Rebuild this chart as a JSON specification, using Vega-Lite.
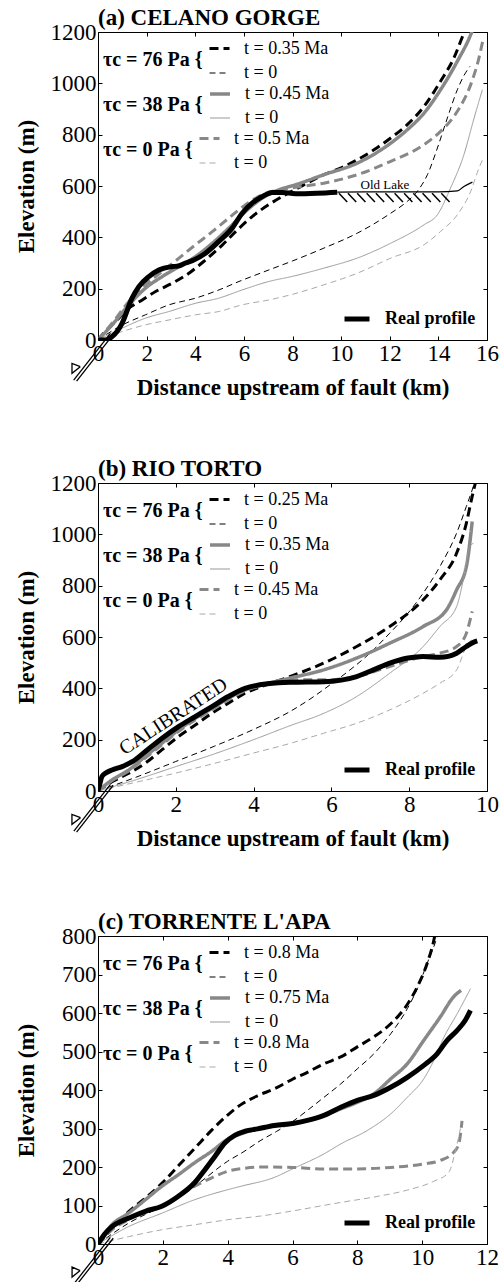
{
  "$schema": "https://vega.github.io/schema/vega-lite/v6.json",
  "background": "white",
  "padding": {"left": 14, "top": 6, "right": 0, "bottom": 0},
  "config": {
    "font": "Liberation Serif",
    "view": {"stroke": "black", "strokeWidth": 1},
    "axis": {"labelFont": "Liberation Serif", "labelFontSize": 23, "labelColor": "black", "titleFont": "Liberation Serif", "titleFontSize": 23, "titleFontWeight": "bold", "titleColor": "black", "tickColor": "black", "tickSize": -4, "domain": false, "grid": false, "labelPadding": 6, "labelFlush": false, "labelOverlap": false, "format": "d"},
    "title": {"font": "Liberation Serif", "fontSize": 23, "fontWeight": "bold", "anchor": "start", "color": "black", "offset": -9, "frame": "group"},
    "legend": {"labelFont": "Liberation Serif", "labelFontSize": 18, "labelColor": "black", "titleFont": "Liberation Serif", "titleFontSize": 20, "titleFontWeight": "bold", "titleColor": "black", "titleOrient": "left", "titlePadding": 5, "labelOffset": 13, "symbolSize": 400, "rowPadding": 4.5, "offset": 5, "padding": 0, "symbolType": "stroke", "layout": {"top-left": {"direction": "vertical", "margin": -1, "anchor": "start"}}}
  },
  "datasets": {
    "a": [
      {"g":"76","t":"t = 0.35 Ma","x":0,"y":0},{"g":"76","t":"t = 0.35 Ma","x":0.17,"y":20},{"g":"76","t":"t = 0.35 Ma","x":0.72,"y":72},{"g":"76","t":"t = 0.35 Ma","x":1.27,"y":124},{"g":"76","t":"t = 0.35 Ma","x":1.82,"y":156},{"g":"76","t":"t = 0.35 Ma","x":2.37,"y":189},{"g":"76","t":"t = 0.35 Ma","x":3.05,"y":221},{"g":"76","t":"t = 0.35 Ma","x":3.74,"y":260},{"g":"76","t":"t = 0.35 Ma","x":4.42,"y":312},{"g":"76","t":"t = 0.35 Ma","x":5.11,"y":370},{"g":"76","t":"t = 0.35 Ma","x":5.66,"y":422},{"g":"76","t":"t = 0.35 Ma","x":6.34,"y":481},{"g":"76","t":"t = 0.35 Ma","x":7.02,"y":527},{"g":"76","t":"t = 0.35 Ma","x":7.58,"y":559},{"g":"76","t":"t = 0.35 Ma","x":7.99,"y":580},{"g":"76","t":"t = 0.35 Ma","x":9.29,"y":644},{"g":"76","t":"t = 0.35 Ma","x":9.98,"y":670},{"g":"76","t":"t = 0.35 Ma","x":10.66,"y":702},{"g":"76","t":"t = 0.35 Ma","x":11.35,"y":741},{"g":"76","t":"t = 0.35 Ma","x":12.04,"y":787},{"g":"76","t":"t = 0.35 Ma","x":12.72,"y":839},{"g":"76","t":"t = 0.35 Ma","x":13.41,"y":910},{"g":"76","t":"t = 0.35 Ma","x":14.09,"y":1008},{"g":"76","t":"t = 0.35 Ma","x":14.64,"y":1099},{"g":"76","t":"t = 0.35 Ma","x":15.05,"y":1196},{"g":"76","t":"t = 0.35 Ma","x":15.12,"y":1212},
      {"g":"76","t":"t = 0","x":0,"y":0},{"g":"76","t":"t = 0","x":0.99,"y":58},{"g":"76","t":"t = 0","x":1.95,"y":98},{"g":"76","t":"t = 0","x":2.92,"y":137},{"g":"76","t":"t = 0","x":4.01,"y":163},{"g":"76","t":"t = 0","x":4.97,"y":195},{"g":"76","t":"t = 0","x":5.8,"y":228},{"g":"76","t":"t = 0","x":7.03,"y":273},{"g":"76","t":"t = 0","x":8.0,"y":308},{"g":"76","t":"t = 0","x":9.29,"y":358},{"g":"76","t":"t = 0","x":10.66,"y":416},{"g":"76","t":"t = 0","x":12.04,"y":494},{"g":"76","t":"t = 0","x":12.72,"y":540},{"g":"76","t":"t = 0","x":13.13,"y":579},{"g":"76","t":"t = 0","x":13.55,"y":644},{"g":"76","t":"t = 0","x":13.96,"y":748},{"g":"76","t":"t = 0","x":14.37,"y":865},{"g":"76","t":"t = 0","x":14.78,"y":975},{"g":"76","t":"t = 0","x":15.05,"y":1030},{"g":"76","t":"t = 0","x":15.3,"y":1066},
      {"g":"38","t":"t = 0.45 Ma","x":0,"y":0},{"g":"38","t":"t = 0.45 Ma","x":0.58,"y":59},{"g":"38","t":"t = 0.45 Ma","x":1.27,"y":137},{"g":"38","t":"t = 0.45 Ma","x":1.95,"y":202},{"g":"38","t":"t = 0.45 Ma","x":2.64,"y":247},{"g":"38","t":"t = 0.45 Ma","x":3.33,"y":286},{"g":"38","t":"t = 0.45 Ma","x":4.01,"y":325},{"g":"38","t":"t = 0.45 Ma","x":4.7,"y":377},{"g":"38","t":"t = 0.45 Ma","x":5.38,"y":436},{"g":"38","t":"t = 0.45 Ma","x":6.07,"y":501},{"g":"38","t":"t = 0.45 Ma","x":6.76,"y":553},{"g":"38","t":"t = 0.45 Ma","x":7.44,"y":585},{"g":"38","t":"t = 0.45 Ma","x":8.13,"y":605},{"g":"38","t":"t = 0.45 Ma","x":9.29,"y":644},{"g":"38","t":"t = 0.45 Ma","x":10.66,"y":689},{"g":"38","t":"t = 0.45 Ma","x":12.04,"y":767},{"g":"38","t":"t = 0.45 Ma","x":12.72,"y":819},{"g":"38","t":"t = 0.45 Ma","x":13.41,"y":884},{"g":"38","t":"t = 0.45 Ma","x":14.09,"y":975},{"g":"38","t":"t = 0.45 Ma","x":14.78,"y":1086},{"g":"38","t":"t = 0.45 Ma","x":15.33,"y":1190},{"g":"38","t":"t = 0.45 Ma","x":15.42,"y":1212},
      {"g":"38","t":"t = 0","x":0,"y":0},{"g":"38","t":"t = 0","x":0.99,"y":46},{"g":"38","t":"t = 0","x":1.95,"y":85},{"g":"38","t":"t = 0","x":2.92,"y":111},{"g":"38","t":"t = 0","x":4.01,"y":143},{"g":"38","t":"t = 0","x":4.97,"y":163},{"g":"38","t":"t = 0","x":5.93,"y":195},{"g":"38","t":"t = 0","x":7.03,"y":228},{"g":"38","t":"t = 0","x":8.0,"y":248},{"g":"38","t":"t = 0","x":9.29,"y":280},{"g":"38","t":"t = 0","x":10.66,"y":319},{"g":"38","t":"t = 0","x":12.04,"y":377},{"g":"38","t":"t = 0","x":13.41,"y":449},{"g":"38","t":"t = 0","x":13.96,"y":488},{"g":"38","t":"t = 0","x":14.5,"y":592},{"g":"38","t":"t = 0","x":15.05,"y":722},{"g":"38","t":"t = 0","x":15.47,"y":865},{"g":"38","t":"t = 0","x":15.81,"y":975},
      {"g":"0","t":"t = 0.5 Ma","x":0,"y":0},{"g":"0","t":"t = 0.5 Ma","x":0.58,"y":65},{"g":"0","t":"t = 0.5 Ma","x":1.27,"y":150},{"g":"0","t":"t = 0.5 Ma","x":1.95,"y":215},{"g":"0","t":"t = 0.5 Ma","x":2.64,"y":267},{"g":"0","t":"t = 0.5 Ma","x":3.33,"y":319},{"g":"0","t":"t = 0.5 Ma","x":4.01,"y":371},{"g":"0","t":"t = 0.5 Ma","x":4.7,"y":422},{"g":"0","t":"t = 0.5 Ma","x":5.38,"y":475},{"g":"0","t":"t = 0.5 Ma","x":6.07,"y":527},{"g":"0","t":"t = 0.5 Ma","x":6.76,"y":566},{"g":"0","t":"t = 0.5 Ma","x":7.44,"y":585},{"g":"0","t":"t = 0.5 Ma","x":8.13,"y":595},{"g":"0","t":"t = 0.5 Ma","x":9.29,"y":611},{"g":"0","t":"t = 0.5 Ma","x":10.66,"y":644},{"g":"0","t":"t = 0.5 Ma","x":12.04,"y":696},{"g":"0","t":"t = 0.5 Ma","x":13.41,"y":761},{"g":"0","t":"t = 0.5 Ma","x":14.09,"y":813},{"g":"0","t":"t = 0.5 Ma","x":14.78,"y":891},{"g":"0","t":"t = 0.5 Ma","x":15.33,"y":995},{"g":"0","t":"t = 0.5 Ma","x":15.67,"y":1099},{"g":"0","t":"t = 0.5 Ma","x":15.85,"y":1177},
      {"g":"0","t":"t = 0","x":0,"y":0},{"g":"0","t":"t = 0","x":0.99,"y":33},{"g":"0","t":"t = 0","x":1.95,"y":59},{"g":"0","t":"t = 0","x":2.92,"y":78},{"g":"0","t":"t = 0","x":4.01,"y":98},{"g":"0","t":"t = 0","x":4.97,"y":111},{"g":"0","t":"t = 0","x":5.93,"y":137},{"g":"0","t":"t = 0","x":7.03,"y":156},{"g":"0","t":"t = 0","x":8.0,"y":178},{"g":"0","t":"t = 0","x":9.29,"y":215},{"g":"0","t":"t = 0","x":10.66,"y":260},{"g":"0","t":"t = 0","x":12.04,"y":319},{"g":"0","t":"t = 0","x":13.41,"y":371},{"g":"0","t":"t = 0","x":14.09,"y":423},{"g":"0","t":"t = 0","x":14.78,"y":488},{"g":"0","t":"t = 0","x":15.33,"y":579},{"g":"0","t":"t = 0","x":15.67,"y":670},{"g":"0","t":"t = 0","x":15.85,"y":709},
      {"g":"real","t":"Real profile","x":0,"y":0},{"g":"real","t":"Real profile","x":0.3,"y":0},{"g":"real","t":"Real profile","x":0.58,"y":13},{"g":"real","t":"Real profile","x":0.99,"y":65},{"g":"real","t":"Real profile","x":1.4,"y":163},{"g":"real","t":"Real profile","x":1.68,"y":208},{"g":"real","t":"Real profile","x":2.09,"y":247},{"g":"real","t":"Real profile","x":2.5,"y":273},{"g":"real","t":"Real profile","x":3.05,"y":286},{"g":"real","t":"Real profile","x":3.3,"y":288},{"g":"real","t":"Real profile","x":3.6,"y":300},{"g":"real","t":"Real profile","x":3.94,"y":312},{"g":"real","t":"Real profile","x":4.42,"y":338},{"g":"real","t":"Real profile","x":4.97,"y":384},{"g":"real","t":"Real profile","x":5.52,"y":436},{"g":"real","t":"Real profile","x":5.93,"y":494},{"g":"real","t":"Real profile","x":6.34,"y":533},{"g":"real","t":"Real profile","x":6.76,"y":559},{"g":"real","t":"Real profile","x":7.17,"y":575},{"g":"real","t":"Real profile","x":7.58,"y":575},{"g":"real","t":"Real profile","x":8.13,"y":570},{"g":"real","t":"Real profile","x":9.0,"y":572},{"g":"real","t":"Real profile","x":9.84,"y":576},
      {"g":"lake","t":"lake","x":9.84,"y":576},{"g":"lake","t":"lake","x":11,"y":577},{"g":"lake","t":"lake","x":12,"y":577},{"g":"lake","t":"lake","x":13,"y":577},{"g":"lake","t":"lake","x":14,"y":577},{"g":"lake","t":"lake","x":14.78,"y":581},{"g":"lake","t":"lake","x":15.05,"y":598},{"g":"lake","t":"lake","x":15.4,"y":615}
    ],
    "hatch": [
      {"x":9.91,"x2":10.25},{"x":10.28,"x2":10.62},{"x":10.66,"x2":11.0},{"x":11.05,"x2":11.39},{"x":11.43,"x2":11.77},{"x":11.82,"x2":12.16},{"x":12.2,"x2":12.54},{"x":12.59,"x2":12.93},{"x":12.97,"x2":13.31},{"x":13.35,"x2":13.69},{"x":13.74,"x2":14.08},{"x":14.12,"x2":14.46}
    ],
    "notes": [
      {"p":"a","label":"Old Lake","x":11.8,"y":603},
      {"p":"b","label":"CALIBRATED","x":1.94,"y":290}
    ],
    "fault": [
      {"p":"a","part":"l1","o":1,"x":0.51,"y":26},{"p":"a","part":"l1","o":2,"x":-1.0,"y":-156},
      {"p":"a","part":"l2","o":1,"x":0.63,"y":22},{"p":"a","part":"l2","o":2,"x":-0.88,"y":-160},
      {"p":"a","part":"tri","o":1,"x":-0.73,"y":-104},{"p":"a","part":"tri","o":2,"x":-1.07,"y":-91},{"p":"a","part":"tri","o":3,"x":-1.07,"y":-130},{"p":"a","part":"tri","o":4,"x":-0.73,"y":-104},
      {"p":"b","part":"l1","o":1,"x":0.32,"y":26},{"p":"b","part":"l1","o":2,"x":-0.62,"y":-156},
      {"p":"b","part":"l2","o":1,"x":0.39,"y":22},{"p":"b","part":"l2","o":2,"x":-0.55,"y":-160},
      {"p":"b","part":"tri","o":1,"x":-0.45,"y":-104},{"p":"b","part":"tri","o":2,"x":-0.67,"y":-91},{"p":"b","part":"tri","o":3,"x":-0.67,"y":-130},{"p":"b","part":"tri","o":4,"x":-0.45,"y":-104},
      {"p":"c","part":"l1","o":1,"x":0.38,"y":17},{"p":"c","part":"l1","o":2,"x":-0.75,"y":-104},
      {"p":"c","part":"l2","o":1,"x":0.47,"y":15},{"p":"c","part":"l2","o":2,"x":-0.66,"y":-106},
      {"p":"c","part":"tri","o":1,"x":-0.55,"y":-69},{"p":"c","part":"tri","o":2,"x":-0.8,"y":-60},{"p":"c","part":"tri","o":3,"x":-0.8,"y":-86},{"p":"c","part":"tri","o":4,"x":-0.55,"y":-69}
    ],
    "b": [
      {"g":"76","t":"t = 0.25 Ma","x":0,"y":0},{"g":"76","t":"t = 0.25 Ma","x":0.36,"y":36},{"g":"76","t":"t = 0.25 Ma","x":0.79,"y":69},{"g":"76","t":"t = 0.25 Ma","x":1.21,"y":108},{"g":"76","t":"t = 0.25 Ma","x":1.64,"y":160},{"g":"76","t":"t = 0.25 Ma","x":2.07,"y":212},{"g":"76","t":"t = 0.25 Ma","x":2.5,"y":257},{"g":"76","t":"t = 0.25 Ma","x":2.93,"y":303},{"g":"76","t":"t = 0.25 Ma","x":3.35,"y":342},{"g":"76","t":"t = 0.25 Ma","x":3.78,"y":381},{"g":"76","t":"t = 0.25 Ma","x":4.21,"y":407},{"g":"76","t":"t = 0.25 Ma","x":4.94,"y":446},{"g":"76","t":"t = 0.25 Ma","x":5.8,"y":498},{"g":"76","t":"t = 0.25 Ma","x":6.65,"y":563},{"g":"76","t":"t = 0.25 Ma","x":7.5,"y":641},{"g":"76","t":"t = 0.25 Ma","x":8.36,"y":745},{"g":"76","t":"t = 0.25 Ma","x":8.79,"y":823},{"g":"76","t":"t = 0.25 Ma","x":9.22,"y":927},{"g":"76","t":"t = 0.25 Ma","x":9.47,"y":1044},{"g":"76","t":"t = 0.25 Ma","x":9.6,"y":1135},{"g":"76","t":"t = 0.25 Ma","x":9.72,"y":1212},
      {"g":"76","t":"t = 0","x":0,"y":0},{"g":"76","t":"t = 0","x":1,"y":55},{"g":"76","t":"t = 0","x":2,"y":115},{"g":"76","t":"t = 0","x":3,"y":175},{"g":"76","t":"t = 0","x":4,"y":240},{"g":"76","t":"t = 0","x":4.94,"y":310},{"g":"76","t":"t = 0","x":5.45,"y":358},{"g":"76","t":"t = 0","x":5.96,"y":413},{"g":"76","t":"t = 0","x":6.48,"y":472},{"g":"76","t":"t = 0","x":6.99,"y":537},{"g":"76","t":"t = 0","x":7.5,"y":615},{"g":"76","t":"t = 0","x":7.97,"y":693},{"g":"76","t":"t = 0","x":8.36,"y":771},{"g":"76","t":"t = 0","x":8.79,"y":875},{"g":"76","t":"t = 0","x":9.22,"y":1005},{"g":"76","t":"t = 0","x":9.47,"y":1109},{"g":"76","t":"t = 0","x":9.65,"y":1187},{"g":"76","t":"t = 0","x":9.7,"y":1212},
      {"g":"38","t":"t = 0.35 Ma","x":0,"y":0},{"g":"38","t":"t = 0.35 Ma","x":0.36,"y":43},{"g":"38","t":"t = 0.35 Ma","x":0.79,"y":82},{"g":"38","t":"t = 0.35 Ma","x":1.21,"y":134},{"g":"38","t":"t = 0.35 Ma","x":1.64,"y":186},{"g":"38","t":"t = 0.35 Ma","x":2.07,"y":238},{"g":"38","t":"t = 0.35 Ma","x":2.5,"y":283},{"g":"38","t":"t = 0.35 Ma","x":2.93,"y":322},{"g":"38","t":"t = 0.35 Ma","x":3.35,"y":361},{"g":"38","t":"t = 0.35 Ma","x":3.78,"y":394},{"g":"38","t":"t = 0.35 Ma","x":4.21,"y":413},{"g":"38","t":"t = 0.35 Ma","x":4.94,"y":440},{"g":"38","t":"t = 0.35 Ma","x":5.8,"y":472},{"g":"38","t":"t = 0.35 Ma","x":6.65,"y":518},{"g":"38","t":"t = 0.35 Ma","x":7.5,"y":576},{"g":"38","t":"t = 0.35 Ma","x":8.36,"y":641},{"g":"38","t":"t = 0.35 Ma","x":8.96,"y":706},{"g":"38","t":"t = 0.35 Ma","x":9.22,"y":784},{"g":"38","t":"t = 0.35 Ma","x":9.47,"y":875},{"g":"38","t":"t = 0.35 Ma","x":9.62,"y":1050},
      {"g":"38","t":"t = 0","x":0,"y":0},{"g":"38","t":"t = 0","x":1,"y":45},{"g":"38","t":"t = 0","x":2,"y":95},{"g":"38","t":"t = 0","x":3,"y":145},{"g":"38","t":"t = 0","x":4,"y":200},{"g":"38","t":"t = 0","x":5,"y":258},{"g":"38","t":"t = 0","x":5.7,"y":296},{"g":"38","t":"t = 0","x":6.65,"y":368},{"g":"38","t":"t = 0","x":7.5,"y":459},{"g":"38","t":"t = 0","x":8.36,"y":563},{"g":"38","t":"t = 0","x":8.79,"y":641},{"g":"38","t":"t = 0","x":9.22,"y":719},{"g":"38","t":"t = 0","x":9.39,"y":823},{"g":"38","t":"t = 0","x":9.56,"y":953},{"g":"38","t":"t = 0","x":9.65,"y":965},
      {"g":"0","t":"t = 0.45 Ma","x":0,"y":0},{"g":"0","t":"t = 0.45 Ma","x":0.36,"y":40},{"g":"0","t":"t = 0.45 Ma","x":0.79,"y":78},{"g":"0","t":"t = 0.45 Ma","x":1.21,"y":128},{"g":"0","t":"t = 0.45 Ma","x":1.64,"y":180},{"g":"0","t":"t = 0.45 Ma","x":2.07,"y":232},{"g":"0","t":"t = 0.45 Ma","x":2.5,"y":277},{"g":"0","t":"t = 0.45 Ma","x":2.93,"y":316},{"g":"0","t":"t = 0.45 Ma","x":3.35,"y":355},{"g":"0","t":"t = 0.45 Ma","x":3.78,"y":390},{"g":"0","t":"t = 0.45 Ma","x":4.21,"y":410},{"g":"0","t":"t = 0.45 Ma","x":4.94,"y":433},{"g":"0","t":"t = 0.45 Ma","x":5.8,"y":433},{"g":"0","t":"t = 0.45 Ma","x":6.65,"y":446},{"g":"0","t":"t = 0.45 Ma","x":7.5,"y":485},{"g":"0","t":"t = 0.45 Ma","x":8.36,"y":524},{"g":"0","t":"t = 0.45 Ma","x":8.79,"y":537},{"g":"0","t":"t = 0.45 Ma","x":9.22,"y":563},{"g":"0","t":"t = 0.45 Ma","x":9.47,"y":615},{"g":"0","t":"t = 0.45 Ma","x":9.62,"y":700},
      {"g":"0","t":"t = 0","x":0,"y":0},{"g":"0","t":"t = 0","x":1,"y":35},{"g":"0","t":"t = 0","x":2,"y":70},{"g":"0","t":"t = 0","x":3,"y":108},{"g":"0","t":"t = 0","x":4,"y":148},{"g":"0","t":"t = 0","x":5,"y":188},{"g":"0","t":"t = 0","x":5.8,"y":225},{"g":"0","t":"t = 0","x":6.65,"y":264},{"g":"0","t":"t = 0","x":7.5,"y":316},{"g":"0","t":"t = 0","x":8.36,"y":381},{"g":"0","t":"t = 0","x":8.79,"y":420},{"g":"0","t":"t = 0","x":9.22,"y":472},{"g":"0","t":"t = 0","x":9.47,"y":563},{"g":"0","t":"t = 0","x":9.6,"y":589},
      {"g":"real","t":"Real profile","x":0,"y":0},{"g":"real","t":"Real profile","x":0.05,"y":30},{"g":"real","t":"Real profile","x":0.1,"y":56},{"g":"real","t":"Real profile","x":0.19,"y":69},{"g":"real","t":"Real profile","x":0.36,"y":82},{"g":"real","t":"Real profile","x":0.62,"y":95},{"g":"real","t":"Real profile","x":0.88,"y":114},{"g":"real","t":"Real profile","x":1.21,"y":153},{"g":"real","t":"Real profile","x":1.64,"y":205},{"g":"real","t":"Real profile","x":2.07,"y":251},{"g":"real","t":"Real profile","x":2.5,"y":290},{"g":"real","t":"Real profile","x":2.93,"y":329},{"g":"real","t":"Real profile","x":3.35,"y":368},{"g":"real","t":"Real profile","x":3.78,"y":400},{"g":"real","t":"Real profile","x":4.21,"y":415},{"g":"real","t":"Real profile","x":4.64,"y":422},{"g":"real","t":"Real profile","x":5.06,"y":424},{"g":"real","t":"Real profile","x":5.8,"y":426},{"g":"real","t":"Real profile","x":6.65,"y":446},{"g":"real","t":"Real profile","x":7.08,"y":472},{"g":"real","t":"Real profile","x":7.5,"y":498},{"g":"real","t":"Real profile","x":7.97,"y":518},{"g":"real","t":"Real profile","x":8.36,"y":524},{"g":"real","t":"Real profile","x":8.79,"y":521},{"g":"real","t":"Real profile","x":9.22,"y":537},{"g":"real","t":"Real profile","x":9.47,"y":563},{"g":"real","t":"Real profile","x":9.69,"y":582},{"g":"real","t":"Real profile","x":9.75,"y":585}
    ],
    "c": [
      {"g":"76","t":"t = 0.8 Ma","x":0,"y":0},{"g":"76","t":"t = 0.8 Ma","x":0.5,"y":45},{"g":"76","t":"t = 0.8 Ma","x":1,"y":88},{"g":"76","t":"t = 0.8 Ma","x":1.5,"y":122},{"g":"76","t":"t = 0.8 Ma","x":2,"y":160},{"g":"76","t":"t = 0.8 Ma","x":2.5,"y":205},{"g":"76","t":"t = 0.8 Ma","x":3,"y":250},{"g":"76","t":"t = 0.8 Ma","x":3.5,"y":295},{"g":"76","t":"t = 0.8 Ma","x":4,"y":335},{"g":"76","t":"t = 0.8 Ma","x":4.41,"y":362},{"g":"76","t":"t = 0.8 Ma","x":4.92,"y":385},{"g":"76","t":"t = 0.8 Ma","x":5.44,"y":403},{"g":"76","t":"t = 0.8 Ma","x":6,"y":428},{"g":"76","t":"t = 0.8 Ma","x":6.46,"y":446},{"g":"76","t":"t = 0.8 Ma","x":6.97,"y":468},{"g":"76","t":"t = 0.8 Ma","x":7.49,"y":486},{"g":"76","t":"t = 0.8 Ma","x":8,"y":512},{"g":"76","t":"t = 0.8 Ma","x":8.51,"y":538},{"g":"76","t":"t = 0.8 Ma","x":9.03,"y":572},{"g":"76","t":"t = 0.8 Ma","x":9.54,"y":622},{"g":"76","t":"t = 0.8 Ma","x":9.85,"y":668},{"g":"76","t":"t = 0.8 Ma","x":10.15,"y":728},{"g":"76","t":"t = 0.8 Ma","x":10.36,"y":789},{"g":"76","t":"t = 0.8 Ma","x":10.41,"y":810},
      {"g":"76","t":"t = 0","x":0,"y":0},{"g":"76","t":"t = 0","x":0.94,"y":54},{"g":"76","t":"t = 0","x":1.97,"y":98},{"g":"76","t":"t = 0","x":2.98,"y":150},{"g":"76","t":"t = 0","x":4,"y":215},{"g":"76","t":"t = 0","x":4.5,"y":240},{"g":"76","t":"t = 0","x":5,"y":268},{"g":"76","t":"t = 0","x":5.5,"y":292},{"g":"76","t":"t = 0","x":6,"y":318},{"g":"76","t":"t = 0","x":6.46,"y":347},{"g":"76","t":"t = 0","x":6.97,"y":381},{"g":"76","t":"t = 0","x":7.49,"y":416},{"g":"76","t":"t = 0","x":8,"y":455},{"g":"76","t":"t = 0","x":8.51,"y":494},{"g":"76","t":"t = 0","x":9.03,"y":546},{"g":"76","t":"t = 0","x":9.54,"y":611},{"g":"76","t":"t = 0","x":9.85,"y":663},{"g":"76","t":"t = 0","x":10.15,"y":728},{"g":"76","t":"t = 0","x":10.46,"y":798},{"g":"76","t":"t = 0","x":10.5,"y":810},
      {"g":"38","t":"t = 0.75 Ma","x":0,"y":0},{"g":"38","t":"t = 0.75 Ma","x":0.43,"y":50},{"g":"38","t":"t = 0.75 Ma","x":0.94,"y":80},{"g":"38","t":"t = 0.75 Ma","x":1.46,"y":115},{"g":"38","t":"t = 0.75 Ma","x":1.97,"y":150},{"g":"38","t":"t = 0.75 Ma","x":2.48,"y":180},{"g":"38","t":"t = 0.75 Ma","x":2.98,"y":211},{"g":"38","t":"t = 0.75 Ma","x":3.51,"y":241},{"g":"38","t":"t = 0.75 Ma","x":4,"y":272},{"g":"38","t":"t = 0.75 Ma","x":4.41,"y":286},{"g":"38","t":"t = 0.75 Ma","x":5.05,"y":302},{"g":"38","t":"t = 0.75 Ma","x":6,"y":312},{"g":"38","t":"t = 0.75 Ma","x":6.97,"y":334},{"g":"38","t":"t = 0.75 Ma","x":7.49,"y":351},{"g":"38","t":"t = 0.75 Ma","x":8,"y":368},{"g":"38","t":"t = 0.75 Ma","x":8.51,"y":390},{"g":"38","t":"t = 0.75 Ma","x":9.03,"y":429},{"g":"38","t":"t = 0.75 Ma","x":9.54,"y":468},{"g":"38","t":"t = 0.75 Ma","x":10.05,"y":529},{"g":"38","t":"t = 0.75 Ma","x":10.56,"y":590},{"g":"38","t":"t = 0.75 Ma","x":10.97,"y":642},{"g":"38","t":"t = 0.75 Ma","x":11.2,"y":659},
      {"g":"38","t":"t = 0","x":0,"y":0},{"g":"38","t":"t = 0","x":0.94,"y":45},{"g":"38","t":"t = 0","x":1.97,"y":80},{"g":"38","t":"t = 0","x":2.98,"y":115},{"g":"38","t":"t = 0","x":4,"y":141},{"g":"38","t":"t = 0","x":4.41,"y":150},{"g":"38","t":"t = 0","x":5.44,"y":173},{"g":"38","t":"t = 0","x":6,"y":195},{"g":"38","t":"t = 0","x":6.97,"y":234},{"g":"38","t":"t = 0","x":7.49,"y":260},{"g":"38","t":"t = 0","x":8.31,"y":295},{"g":"38","t":"t = 0","x":9.03,"y":338},{"g":"38","t":"t = 0","x":9.54,"y":381},{"g":"38","t":"t = 0","x":10.05,"y":429},{"g":"38","t":"t = 0","x":10.36,"y":477},{"g":"38","t":"t = 0","x":10.67,"y":537},{"g":"38","t":"t = 0","x":11.08,"y":598},{"g":"38","t":"t = 0","x":11.49,"y":663},
      {"g":"0","t":"t = 0.8 Ma","x":0,"y":0},{"g":"0","t":"t = 0.8 Ma","x":0.43,"y":37},{"g":"0","t":"t = 0.8 Ma","x":0.94,"y":63},{"g":"0","t":"t = 0.8 Ma","x":1.46,"y":85},{"g":"0","t":"t = 0.8 Ma","x":1.97,"y":98},{"g":"0","t":"t = 0.8 Ma","x":2.48,"y":124},{"g":"0","t":"t = 0.8 Ma","x":2.98,"y":150},{"g":"0","t":"t = 0.8 Ma","x":3.51,"y":172},{"g":"0","t":"t = 0.8 Ma","x":4,"y":189},{"g":"0","t":"t = 0.8 Ma","x":4.54,"y":197},{"g":"0","t":"t = 0.8 Ma","x":5.05,"y":200},{"g":"0","t":"t = 0.8 Ma","x":6,"y":199},{"g":"0","t":"t = 0.8 Ma","x":6.97,"y":195},{"g":"0","t":"t = 0.8 Ma","x":8,"y":195},{"g":"0","t":"t = 0.8 Ma","x":9.03,"y":199},{"g":"0","t":"t = 0.8 Ma","x":10.05,"y":208},{"g":"0","t":"t = 0.8 Ma","x":10.56,"y":217},{"g":"0","t":"t = 0.8 Ma","x":10.97,"y":238},{"g":"0","t":"t = 0.8 Ma","x":11.13,"y":260},{"g":"0","t":"t = 0.8 Ma","x":11.23,"y":320},
      {"g":"0","t":"t = 0","x":0,"y":0},{"g":"0","t":"t = 0","x":0.94,"y":19},{"g":"0","t":"t = 0","x":1.97,"y":37},{"g":"0","t":"t = 0","x":2.98,"y":50},{"g":"0","t":"t = 0","x":4,"y":63},{"g":"0","t":"t = 0","x":5.05,"y":73},{"g":"0","t":"t = 0","x":6.08,"y":87},{"g":"0","t":"t = 0","x":7.49,"y":108},{"g":"0","t":"t = 0","x":8.51,"y":122},{"g":"0","t":"t = 0","x":9.54,"y":140},{"g":"0","t":"t = 0","x":10.36,"y":163},{"g":"0","t":"t = 0","x":10.82,"y":186},{"g":"0","t":"t = 0","x":11.03,"y":243},{"g":"0","t":"t = 0","x":11.18,"y":300},
      {"g":"real","t":"Real profile","x":0,"y":0},{"g":"real","t":"Real profile","x":0.2,"y":25},{"g":"real","t":"Real profile","x":0.43,"y":45},{"g":"real","t":"Real profile","x":0.94,"y":67},{"g":"real","t":"Real profile","x":1.46,"y":85},{"g":"real","t":"Real profile","x":1.97,"y":98},{"g":"real","t":"Real profile","x":2.48,"y":124},{"g":"real","t":"Real profile","x":2.98,"y":159},{"g":"real","t":"Real profile","x":3.3,"y":193},{"g":"real","t":"Real profile","x":3.61,"y":228},{"g":"real","t":"Real profile","x":3.92,"y":263},{"g":"real","t":"Real profile","x":4.23,"y":283},{"g":"real","t":"Real profile","x":4.54,"y":293},{"g":"real","t":"Real profile","x":4.92,"y":299},{"g":"real","t":"Real profile","x":5.44,"y":308},{"g":"real","t":"Real profile","x":6,"y":313},{"g":"real","t":"Real profile","x":6.46,"y":321},{"g":"real","t":"Real profile","x":6.97,"y":334},{"g":"real","t":"Real profile","x":7.49,"y":355},{"g":"real","t":"Real profile","x":8,"y":373},{"g":"real","t":"Real profile","x":8.51,"y":386},{"g":"real","t":"Real profile","x":9.03,"y":407},{"g":"real","t":"Real profile","x":9.54,"y":433},{"g":"real","t":"Real profile","x":10.05,"y":464},{"g":"real","t":"Real profile","x":10.46,"y":494},{"g":"real","t":"Real profile","x":10.77,"y":529},{"g":"real","t":"Real profile","x":11.08,"y":555},{"g":"real","t":"Real profile","x":11.33,"y":581},{"g":"real","t":"Real profile","x":11.49,"y":607}
    ]
  },
  "spacing": 57,
  "vconcat": [
    {
      "title": {"text": "(a) CELANO GORGE"},
      "width": 389, "height": 308,
      "data": {"name": "a"},
      "layer": [
        {
          "transform": [{"filter": "datum.g == '76'"}],
          "mark": {"type": "line", "clip": true, "interpolate": "monotone"},
          "encoding": {
            "x": {"field": "x", "type": "quantitative", "scale": {"domain": [0, 16], "nice": false, "zero": false}, "axis": {"orient": "bottom", "values": [0,2,4,6,8,10,12,14,16], "title": "Distance upstream of fault (km)", "titlePadding": 11, "labelFont": "Liberation Serif", "format": "d"}},
            "y": {"field": "y", "type": "quantitative", "scale": {"domain": [0, 1200], "nice": false, "zero": false}, "axis": {"orient": "left", "values": [0,200,400,600,800,1000,1200], "title": "Elevation (m)", "titleX": -60, "labelFont": "Liberation Serif", "format": "d"}},
            "color": {"field": "t", "type": "nominal", "scale": {"domain": ["t = 0.35 Ma", "t = 0"], "range": ["#000000", "#000000"]}, "legend": {"title": "τc = 76 Pa {", "orient": "top-left"}},
            "strokeDash": {"field": "t", "type": "nominal", "scale": {"domain": ["t = 0.35 Ma", "t = 0"], "range": [[9, 5], [6, 4]]}},
            "strokeWidth": {"field": "t", "type": "nominal", "scale": {"domain": ["t = 0.35 Ma", "t = 0"], "range": [3, 1]}}
          }
        },
        {
          "transform": [{"filter": "datum.g == '38'"}],
          "mark": {"type": "line", "clip": true, "interpolate": "monotone"},
          "encoding": {
            "x": {"field": "x", "type": "quantitative", "axis": {"orient": "top", "values": [0,2,4,6,8,10,12,14,16], "labels": false, "title": null}},
            "y": {"field": "y", "type": "quantitative", "axis": {"orient": "right", "values": [0,200,400,600,800,1000,1200], "labels": false, "title": null}},
            "color": {"field": "t", "type": "nominal", "scale": {"domain": ["t = 0.45 Ma", "t = 0"], "range": ["#888888", "#999999"]}, "legend": {"title": "τc = 38 Pa {", "orient": "top-left"}},
            "strokeDash": {"field": "t", "type": "nominal", "scale": {"domain": ["t = 0.45 Ma", "t = 0"], "range": [[1, 0], [1, 0]]}},
            "strokeWidth": {"field": "t", "type": "nominal", "scale": {"domain": ["t = 0.45 Ma", "t = 0"], "range": [3.5, 1]}}
          }
        },
        {
          "transform": [{"filter": "datum.g == '0'"}],
          "mark": {"type": "line", "clip": true, "interpolate": "monotone"},
          "encoding": {
            "x": {"field": "x", "type": "quantitative", "axis": null},
            "y": {"field": "y", "type": "quantitative", "axis": null},
            "color": {"field": "t", "type": "nominal", "scale": {"domain": ["t = 0.5 Ma", "t = 0"], "range": ["#888888", "#aaaaaa"]}, "legend": {"title": "\u00a0\u00a0τc = 0 Pa {", "orient": "top-left"}},
            "strokeDash": {"field": "t", "type": "nominal", "scale": {"domain": ["t = 0.5 Ma", "t = 0"], "range": [[9, 5], [6, 4]]}},
            "strokeWidth": {"field": "t", "type": "nominal", "scale": {"domain": ["t = 0.5 Ma", "t = 0"], "range": [3, 1]}}
          }
        },
        {
          "transform": [{"filter": "datum.g == 'lake'"}],
          "mark": {"type": "line", "color": "black", "strokeWidth": 1.3, "interpolate": "monotone"},
          "encoding": {
            "x": {"field": "x", "type": "quantitative", "axis": null},
            "y": {"field": "y", "type": "quantitative", "axis": null}
          }
        },
        {
          "data": {"name": "hatch"},
          "mark": {"type": "rule", "color": "black", "strokeWidth": 1.5},
          "encoding": {
            "x": {"field": "x", "type": "quantitative", "axis": null},
            "x2": {"field": "x2"},
            "y": {"datum": 572, "type": "quantitative", "axis": null},
            "y2": {"datum": 538}
          }
        },
        {
          "data": {"name": "notes"},
          "transform": [{"filter": "datum.p == 'a'"}],
          "mark": {"type": "text", "font": "Liberation Serif", "fontSize": 13, "color": "black"},
          "encoding": {
            "x": {"field": "x", "type": "quantitative", "axis": null},
            "y": {"field": "y", "type": "quantitative", "axis": null},
            "text": {"field": "label"}
          }
        },
        {
          "data": {"name": "fault"},
          "transform": [{"filter": "datum.p == 'a'"}],
          "mark": {"type": "line", "color": "black", "strokeWidth": 1.3, "clip": false},
          "encoding": {
            "x": {"field": "x", "type": "quantitative", "axis": null},
            "y": {"field": "y", "type": "quantitative", "axis": null},
            "detail": {"field": "part"},
            "order": {"field": "o"}
          }
        },
        {
          "transform": [{"filter": "datum.g == 'real'"}],
          "mark": {"type": "line", "clip": true, "strokeWidth": 5, "interpolate": "monotone"},
          "encoding": {
            "x": {"field": "x", "type": "quantitative", "axis": null},
            "y": {"field": "y", "type": "quantitative", "axis": null},
            "color": {"field": "t", "type": "nominal", "scale": {"domain": ["Real profile"], "range": ["#000000"]}, "legend": {"title": null, "orient": "bottom-right", "offset": 11, "symbolSize": 625, "symbolStrokeWidth": 5, "labelFontWeight": "bold"}}
          }
        }
      ],
      "resolve": {"scale": {"color": "independent", "strokeDash": "independent", "strokeWidth": "independent"}, "legend": {"color": "independent", "strokeDash": "independent", "strokeWidth": "independent"}, "axis": {"x": "independent", "y": "independent"}}
    },
    {
      "spacing": 59,
      "vconcat": [
        {
          "title": {"text": "(b) RIO TORTO"},
          "width": 389, "height": 308,
          "data": {"name": "b"},
          "layer": [
            {
              "transform": [{"filter": "datum.g == '76'"}],
              "mark": {"type": "line", "clip": true, "interpolate": "monotone"},
              "encoding": {
                "x": {"field": "x", "type": "quantitative", "scale": {"domain": [0, 10], "nice": false, "zero": false}, "axis": {"orient": "bottom", "values": [0,2,4,6,8,10], "title": "Distance upstream of fault (km)", "titlePadding": 11, "labelFont": "Liberation Serif", "format": "d"}},
                "y": {"field": "y", "type": "quantitative", "scale": {"domain": [0, 1200], "nice": false, "zero": false}, "axis": {"orient": "left", "values": [0,200,400,600,800,1000,1200], "title": "Elevation (m)", "titleX": -60, "labelFont": "Liberation Serif", "format": "d"}},
                "color": {"field": "t", "type": "nominal", "scale": {"domain": ["t = 0.25 Ma", "t = 0"], "range": ["#000000", "#000000"]}, "legend": {"title": "τc = 76 Pa {", "orient": "top-left"}},
                "strokeDash": {"field": "t", "type": "nominal", "scale": {"domain": ["t = 0.25 Ma", "t = 0"], "range": [[9, 5], [6, 4]]}},
                "strokeWidth": {"field": "t", "type": "nominal", "scale": {"domain": ["t = 0.25 Ma", "t = 0"], "range": [3, 1]}}
              }
            },
            {
              "transform": [{"filter": "datum.g == '38'"}],
              "mark": {"type": "line", "clip": true, "interpolate": "monotone"},
              "encoding": {
                "x": {"field": "x", "type": "quantitative", "axis": {"orient": "top", "values": [0,2,4,6,8,10], "labels": false, "title": null}},
                "y": {"field": "y", "type": "quantitative", "axis": {"orient": "right", "values": [0,200,400,600,800,1000,1200], "labels": false, "title": null}},
                "color": {"field": "t", "type": "nominal", "scale": {"domain": ["t = 0.35 Ma", "t = 0"], "range": ["#888888", "#999999"]}, "legend": {"title": "τc = 38 Pa {", "orient": "top-left"}},
                "strokeDash": {"field": "t", "type": "nominal", "scale": {"domain": ["t = 0.35 Ma", "t = 0"], "range": [[1, 0], [1, 0]]}},
                "strokeWidth": {"field": "t", "type": "nominal", "scale": {"domain": ["t = 0.35 Ma", "t = 0"], "range": [3.5, 1]}}
              }
            },
            {
              "transform": [{"filter": "datum.g == '0'"}],
              "mark": {"type": "line", "clip": true, "interpolate": "monotone"},
              "encoding": {
                "x": {"field": "x", "type": "quantitative", "axis": null},
                "y": {"field": "y", "type": "quantitative", "axis": null},
                "color": {"field": "t", "type": "nominal", "scale": {"domain": ["t = 0.45 Ma", "t = 0"], "range": ["#888888", "#aaaaaa"]}, "legend": {"title": "\u00a0\u00a0τc = 0 Pa {", "orient": "top-left"}},
                "strokeDash": {"field": "t", "type": "nominal", "scale": {"domain": ["t = 0.45 Ma", "t = 0"], "range": [[9, 5], [6, 4]]}},
                "strokeWidth": {"field": "t", "type": "nominal", "scale": {"domain": ["t = 0.45 Ma", "t = 0"], "range": [3, 1]}}
              }
            },
            {
              "data": {"name": "notes"},
              "transform": [{"filter": "datum.p == 'b'"}],
              "mark": {"type": "text", "font": "Liberation Serif", "fontSize": 20, "angle": 327, "color": "black"},
              "encoding": {
                "x": {"field": "x", "type": "quantitative", "axis": null},
                "y": {"field": "y", "type": "quantitative", "axis": null},
                "text": {"field": "label"}
              }
            },
            {
              "data": {"name": "fault"},
              "transform": [{"filter": "datum.p == 'b'"}],
              "mark": {"type": "line", "color": "black", "strokeWidth": 1.3, "clip": false},
              "encoding": {
                "x": {"field": "x", "type": "quantitative", "axis": null},
                "y": {"field": "y", "type": "quantitative", "axis": null},
                "detail": {"field": "part"},
                "order": {"field": "o"}
              }
            },
            {
              "transform": [{"filter": "datum.g == 'real'"}],
              "mark": {"type": "line", "clip": true, "strokeWidth": 5, "interpolate": "monotone"},
              "encoding": {
                "x": {"field": "x", "type": "quantitative", "axis": null},
                "y": {"field": "y", "type": "quantitative", "axis": null},
                "color": {"field": "t", "type": "nominal", "scale": {"domain": ["Real profile"], "range": ["#000000"]}, "legend": {"title": null, "orient": "bottom-right", "offset": 11, "symbolSize": 625, "symbolStrokeWidth": 5, "labelFontWeight": "bold"}}
              }
            }
          ],
          "resolve": {"scale": {"color": "independent", "strokeDash": "independent", "strokeWidth": "independent"}, "legend": {"color": "independent", "strokeDash": "independent", "strokeWidth": "independent"}, "axis": {"x": "independent", "y": "independent"}}
        },
        {
          "title": {"text": "(c) TORRENTE L'APA"},
          "width": 389, "height": 308,
          "data": {"name": "c"},
          "layer": [
            {
              "transform": [{"filter": "datum.g == '76'"}],
              "mark": {"type": "line", "clip": true, "interpolate": "monotone"},
              "encoding": {
                "x": {"field": "x", "type": "quantitative", "scale": {"domain": [0, 12], "nice": false, "zero": false}, "axis": {"orient": "bottom", "values": [0,2,4,6,8,10,12], "title": null, "labelFont": "Liberation Serif", "format": "d"}},
                "y": {"field": "y", "type": "quantitative", "scale": {"domain": [0, 800], "nice": false, "zero": false}, "axis": {"orient": "left", "values": [0,100,200,300,400,500,600,700,800], "title": "Elevation (m)", "titleX": -60, "labelFont": "Liberation Serif", "format": "d"}},
                "color": {"field": "t", "type": "nominal", "scale": {"domain": ["t = 0.8 Ma", "t = 0"], "range": ["#000000", "#000000"]}, "legend": {"title": "τc = 76 Pa {", "orient": "top-left"}},
                "strokeDash": {"field": "t", "type": "nominal", "scale": {"domain": ["t = 0.8 Ma", "t = 0"], "range": [[9, 5], [6, 4]]}},
                "strokeWidth": {"field": "t", "type": "nominal", "scale": {"domain": ["t = 0.8 Ma", "t = 0"], "range": [3, 1]}}
              }
            },
            {
              "transform": [{"filter": "datum.g == '38'"}],
              "mark": {"type": "line", "clip": true, "interpolate": "monotone"},
              "encoding": {
                "x": {"field": "x", "type": "quantitative", "axis": {"orient": "top", "values": [0,2,4,6,8,10,12], "labels": false, "title": null}},
                "y": {"field": "y", "type": "quantitative", "axis": {"orient": "right", "values": [0,100,200,300,400,500,600,700,800], "labels": false, "title": null}},
                "color": {"field": "t", "type": "nominal", "scale": {"domain": ["t = 0.75 Ma", "t = 0"], "range": ["#888888", "#999999"]}, "legend": {"title": "τc = 38 Pa {", "orient": "top-left"}},
                "strokeDash": {"field": "t", "type": "nominal", "scale": {"domain": ["t = 0.75 Ma", "t = 0"], "range": [[1, 0], [1, 0]]}},
                "strokeWidth": {"field": "t", "type": "nominal", "scale": {"domain": ["t = 0.75 Ma", "t = 0"], "range": [3.5, 1]}}
              }
            },
            {
              "transform": [{"filter": "datum.g == '0'"}],
              "mark": {"type": "line", "clip": true, "interpolate": "monotone"},
              "encoding": {
                "x": {"field": "x", "type": "quantitative", "axis": null},
                "y": {"field": "y", "type": "quantitative", "axis": null},
                "color": {"field": "t", "type": "nominal", "scale": {"domain": ["t = 0.8 Ma", "t = 0"], "range": ["#888888", "#aaaaaa"]}, "legend": {"title": "\u00a0\u00a0τc = 0 Pa {", "orient": "top-left"}},
                "strokeDash": {"field": "t", "type": "nominal", "scale": {"domain": ["t = 0.8 Ma", "t = 0"], "range": [[9, 5], [6, 4]]}},
                "strokeWidth": {"field": "t", "type": "nominal", "scale": {"domain": ["t = 0.8 Ma", "t = 0"], "range": [3, 1]}}
              }
            },
            {
              "data": {"name": "fault"},
              "transform": [{"filter": "datum.p == 'c'"}],
              "mark": {"type": "line", "color": "black", "strokeWidth": 1.3, "clip": false},
              "encoding": {
                "x": {"field": "x", "type": "quantitative", "axis": null},
                "y": {"field": "y", "type": "quantitative", "axis": null},
                "detail": {"field": "part"},
                "order": {"field": "o"}
              }
            },
            {
              "transform": [{"filter": "datum.g == 'real'"}],
              "mark": {"type": "line", "clip": true, "strokeWidth": 5, "interpolate": "monotone"},
              "encoding": {
                "x": {"field": "x", "type": "quantitative", "axis": null},
                "y": {"field": "y", "type": "quantitative", "axis": null},
                "color": {"field": "t", "type": "nominal", "scale": {"domain": ["Real profile"], "range": ["#000000"]}, "legend": {"title": null, "orient": "bottom-right", "offset": 11, "symbolSize": 625, "symbolStrokeWidth": 5, "labelFontWeight": "bold"}}
              }
            }
          ],
          "resolve": {"scale": {"color": "independent", "strokeDash": "independent", "strokeWidth": "independent"}, "legend": {"color": "independent", "strokeDash": "independent", "strokeWidth": "independent"}, "axis": {"x": "independent", "y": "independent"}}
        }
      ]
    }
  ]
}
